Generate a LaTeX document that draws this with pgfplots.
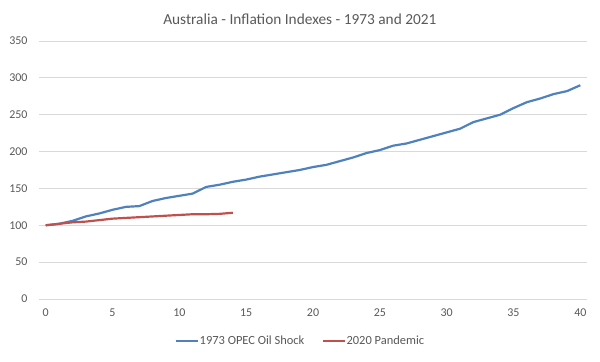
\documentclass[border=0pt]{standalone}
\usepackage{pgfplots}
\pgfplotsset{compat=1.18}
\usepackage{fontspec}
\setmainfont{Carlito}
\definecolor{txtgray}{HTML}{595959}
\definecolor{gridgray}{HTML}{D9D9D9}
\definecolor{sblue}{HTML}{4F81BD}
\definecolor{sred}{HTML}{C0504D}
\begin{document}
\begin{tikzpicture}[x=1bp,y=1bp]
\path[use as bounding box] (0,0) rectangle (600,361);
\begin{axis}[
  at={(39bp,62bp)}, anchor=south west,
  scale only axis, width=548bp, height=258bp,
  xmin=-0.5, xmax=40.5, ymin=0, ymax=350,
  xtick={0,5,...,40}, ytick={0,50,...,350},
  axis line style={draw=none},
  major tick length=0pt,
  ymajorgrids, grid style={gridgray, line width=0.8pt},
  tick label style={font=\fontsize{12}{14}\selectfont, text=txtgray},
  /pgf/number format/assume math mode=true,
  yticklabel style={xshift=-8bp},
  xticklabel style={yshift=-6bp},
  title={Australia - Inflation Indexes - 1973 and 2021},
  title style={font=\fontsize{15.4}{17}\selectfont, text=txtgray, at={(axis description cs:0.476,1)}, anchor=south, yshift=7bp},
  legend style={at={(axis description cs:0.476,-0.163)}, anchor=center, draw=none, font=\fontsize{12.5}{14}\selectfont, text=txtgray, legend columns=2, /tikz/every even column/.append style={column sep=16bp}, /tikz/every odd column/.append style={inner xsep=0pt}, nodes={inner xsep=1bp}},
  legend image code/.code={\draw[#1, line width=2.2pt] (0bp,0bp) -- (22bp,0bp);},
]
\addplot[sblue, line width=2.2pt, line join=round] coordinates {
(0,100) (1,102) (2,106) (3,112) (4,116) (5,121) (6,125) (7,126) (8,133) (9,137)
(10,140) (11,143) (12,152) (13,155) (14,159) (15,162) (16,166) (17,169) (18,172) (19,175)
(20,179) (21,182) (22,187) (23,192) (24,198) (25,202) (26,208) (27,211) (28,216) (29,221)
(30,226) (31,231) (32,240) (33,245) (34,250) (35,259) (36,267) (37,272) (38,278) (39,282)
(40,290)};
\addlegendentry{1973 OPEC Oil Shock}
\addplot[sred, line width=2.2pt, line join=round] coordinates {
(0,100) (1,102) (2,104) (3,105) (4,107) (5,109) (6,110) (7,111) (8,112) (9,113)
(10,114) (11,115) (12,115) (13,115.5) (14,117)};
\addlegendentry{2020 Pandemic}
\end{axis}
\end{tikzpicture}
\end{document}
